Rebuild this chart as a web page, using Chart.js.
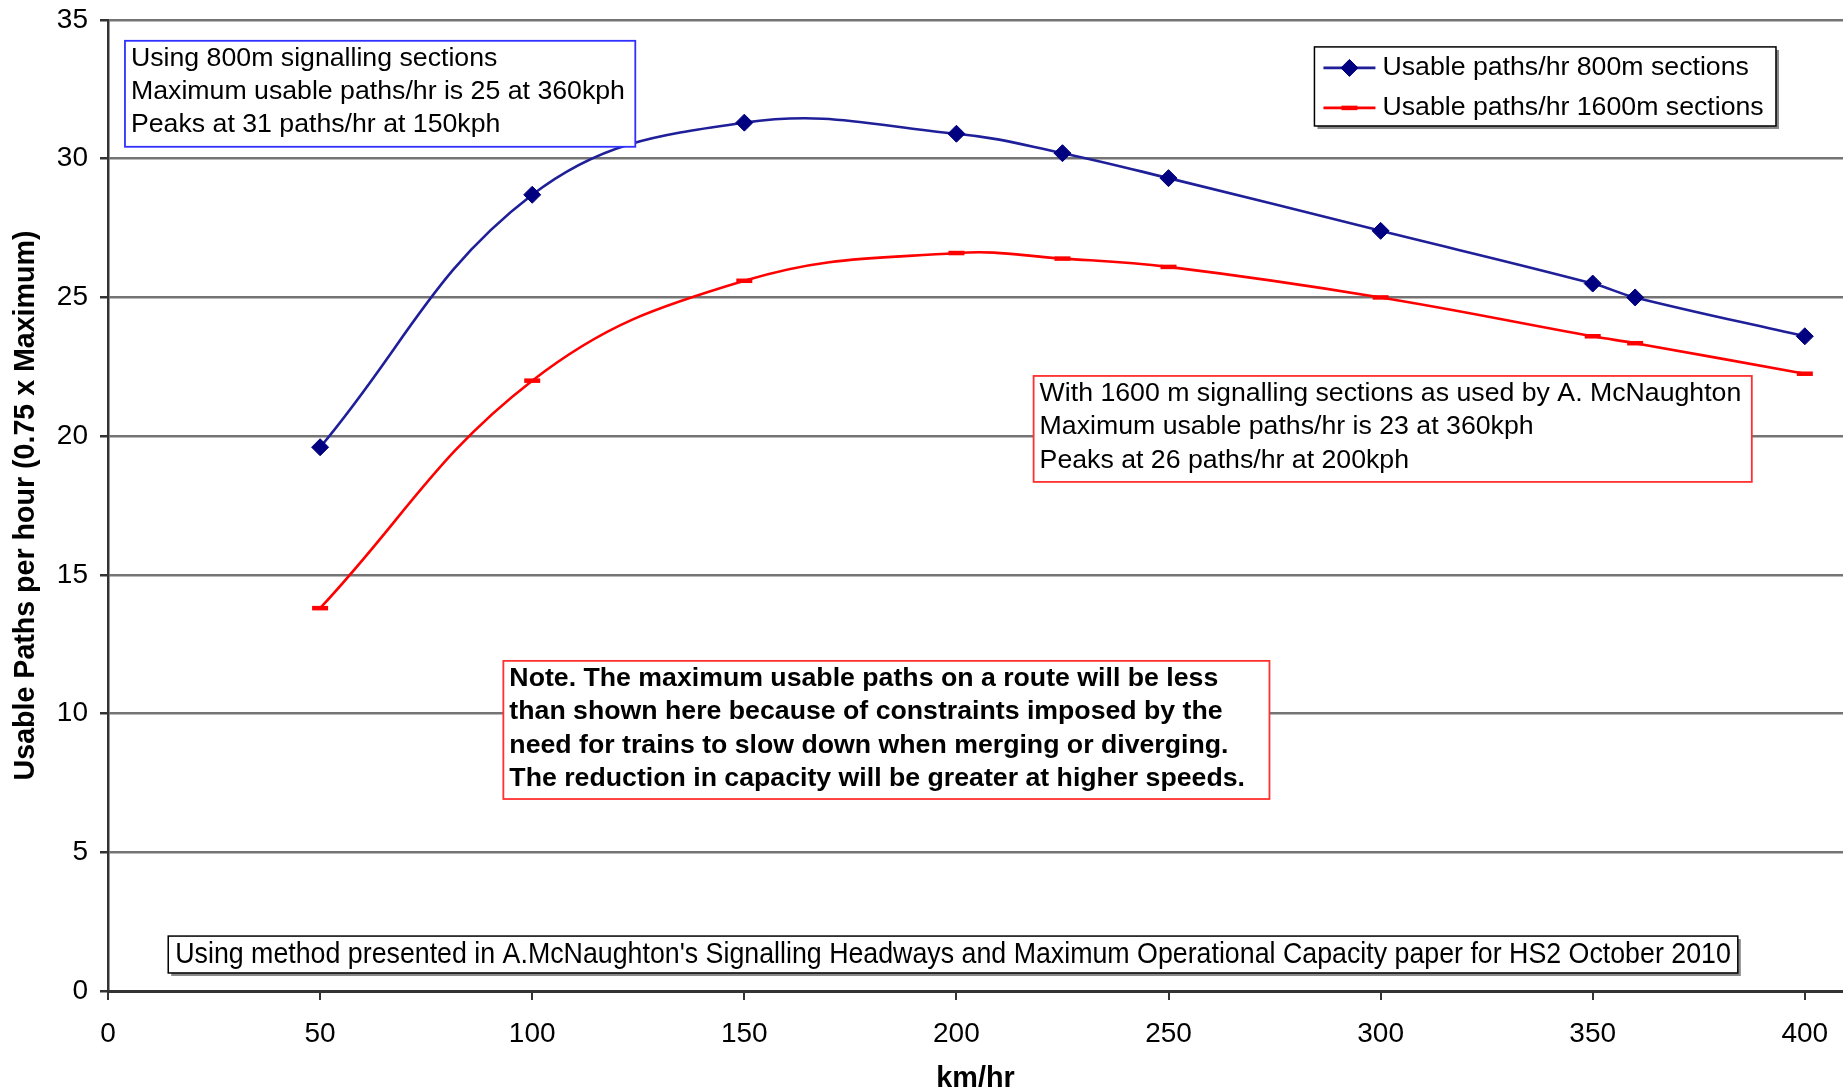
<!DOCTYPE html>
<html>
<head>
<meta charset="utf-8">
<script src="https://cdn.jsdelivr.net/npm/chart.js@4/dist/chart.umd.min.js"></script>
<style>
  html, body { margin: 0; padding: 0; background: #fff; }
  #wrap { width: 1843px; height: 1091px; position: relative; }
</style>
</head>
<body>
<div id="wrap"><canvas id="paths"></canvas></div>
<script>
// speeds in km/hr
const speeds = [50, 100, 150, 200, 225, 250, 300, 350, 360, 400];
// usable paths per hour
const paths800 = [19.6, 28.7, 31.3, 30.9, 30.2, 29.3, 27.4, 25.5, 25.0, 23.6];
const paths1600 = [13.8, 22.0, 25.6, 26.6, 26.4, 26.1, 25.0, 23.6, 23.35, 22.25];
const seriesNames = ['Usable paths/hr 800m sections', 'Usable paths/hr 1600m sections'];
const yTicks = [0, 5, 10, 15, 20, 25, 30, 35];

const FONT = "'Liberation Sans', Arial, sans-serif";

// text boxes, anchored in data units (x0,y0 top-left / x1,y1 bottom-right)
const notes = [
    { x0: 4.0, y0: 34.25, x1: 124.3, y1: 30.43, border: '#3030ff', bold: false,
      lines: ['Using 800m signalling sections',
              'Maximum usable paths/hr is 25 at 360kph',
              'Peaks at 31 paths/hr at 150kph'] },
    { x0: 218.2, y0: 22.17, x1: 387.5, y1: 18.35, border: '#ff3030', bold: false,
      lines: ['With 1600 m signalling sections as used by A. McNaughton',
              'Maximum usable paths/hr is 23 at 360kph',
              'Peaks at 26 paths/hr at 200kph'] },
    { x0: 93.2, y0: 11.9, x1: 273.8, y1: 6.92, border: '#ff3030', bold: true,
      lines: ['Note. The maximum usable paths on a route will be less',
              'than shown here because of constraints imposed by the',
              'need for trains to slow down when merging or diverging.',
              'The reduction in capacity will be greater at higher speeds.'] }
];
const footnote = { x0: 14.2, y0: 1.98, x1: 384.2, y1: 0.65,
    text: "Using method presented in A.McNaughton's Signalling Headways and Maximum Operational Capacity paper for HS2 October 2010" };
const legendBox = { x0: 284.4, y0: 34.03, x1: 393.2, y1: 31.18 };

function shadowBox(ctx, l, t, r, b) {
    ctx.fillStyle = '#888';
    ctx.fillRect(l + 3, t + 3, r - l, b - t);
    ctx.fillStyle = '#fff';
    ctx.fillRect(l, t, r - l, b - t);
    ctx.strokeStyle = '#000';
    ctx.lineWidth = 1.5;
    ctx.strokeRect(l, t, r - l, b - t);
}

const boxPlugin = {
    id: 'boxes',
    afterDatasetsDraw(chart) {
        const { ctx, scales: { x, y } } = chart;
        ctx.save();
        ctx.textBaseline = 'middle';
        ctx.textAlign = 'left';

        notes.forEach(n => {
            const l = x.getPixelForValue(n.x0), t = y.getPixelForValue(n.y0);
            const r = x.getPixelForValue(n.x1), b = y.getPixelForValue(n.y1);
            ctx.fillStyle = '#fff';
            ctx.fillRect(l, t, r - l, b - t);
            ctx.strokeStyle = n.border;
            ctx.lineWidth = 1.8;
            ctx.strokeRect(l, t, r - l, b - t);
            ctx.fillStyle = '#000';
            ctx.font = (n.bold ? 'bold ' : '') + '26.7px ' + FONT;
            n.lines.forEach((s, i) => ctx.fillText(s, l + 6, t + 17.5 + i * 33.4));
        });

        // footnote (condensed text) with shadow
        {
            const l = x.getPixelForValue(footnote.x0), t = y.getPixelForValue(footnote.y0);
            const r = x.getPixelForValue(footnote.x1), b = y.getPixelForValue(footnote.y1);
            shadowBox(ctx, l, t, r, b);
            ctx.fillStyle = '#000';
            ctx.font = '30px ' + FONT;
            ctx.fillText(footnote.text, l + 7, (t + b) / 2, r - l - 14);
        }

        // legend
        {
            const l = x.getPixelForValue(legendBox.x0), t = y.getPixelForValue(legendBox.y0);
            const r = x.getPixelForValue(legendBox.x1), b = y.getPixelForValue(legendBox.y1);
            shadowBox(ctx, l, t, r, b);
            chart.data.datasets.forEach((ds, i) => {
                const cy = t + 21 + i * 40;
                ctx.strokeStyle = ds.borderColor;
                ctx.lineWidth = ds.borderWidth;
                ctx.beginPath();
                ctx.moveTo(l + 9, cy);
                ctx.lineTo(l + 61, cy);
                ctx.stroke();
                ctx.fillStyle = ds.pointBackgroundColor;
                ctx.strokeStyle = ds.pointBorderColor;
                ctx.lineWidth = ds.pointBorderWidth;
                Chart.helpers.drawPoint(ctx, {
                    pointStyle: ds.pointStyle, radius: ds.pointRadius,
                    borderWidth: ds.pointBorderWidth, rotation: 0
                }, l + 35, cy);
                ctx.fillStyle = '#000';
                ctx.font = '26.7px ' + FONT;
                ctx.fillText(ds.label, l + 68, cy);
            });
        }
        ctx.restore();
    }
};

new Chart(document.getElementById('paths'), {
    type: 'line',
    data: {
        datasets: [{
            label: seriesNames[0],
            data: speeds.map((s, i) => ({ x: s, y: paths800[i] })),
            borderColor: '#1f1f99',
            borderWidth: 2.6,
            pointStyle: 'rectRot',
            pointRadius: 8.5,
            pointBorderWidth: 1,
            pointBackgroundColor: '#000080',
            pointBorderColor: '#000080',
            tension: 0.4,
            fill: false
        }, {
            label: seriesNames[1],
            data: speeds.map((s, i) => ({ x: s, y: paths1600[i] })),
            borderColor: '#ff0000',
            borderWidth: 2.6,
            pointStyle: 'line',
            pointRadius: 8,
            pointBorderWidth: 4.5,
            pointBackgroundColor: '#ff0000',
            pointBorderColor: '#ff0000',
            tension: 0.4,
            fill: false
        }]
    },
    options: {
        responsive: true,
        maintainAspectRatio: false,
        animation: false,
        layout: { autoPadding: false, padding: { top: 20, right: 0, left: 0, bottom: 0 } },
        plugins: { legend: { display: false }, tooltip: { enabled: false } },
        scales: {
            x: {
                type: 'linear',
                min: 0,
                max: 409,
                afterFit: (scale) => {
                    scale.height = 100;
                    scale.paddingLeft = 0;
                    scale.paddingRight = 0;
                },
                ticks: { stepSize: 50, includeBounds: false, color: '#000', padding: 17,
                         font: { family: FONT, size: 28 }, maxRotation: 0 },
                grid: { drawOnChartArea: false, drawTicks: true, tickLength: 9,
                        color: '#333', lineWidth: 2 },
                border: { color: '#333', width: 3 },
                title: { display: true, text: 'km/hr', color: '#000',
                         font: { family: FONT, size: 28.8, weight: 'bold', lineHeight: 0.85 },
                         padding: { top: 0, bottom: 0 } }
            },
            y: {
                min: 0,
                max: 35,
                afterFit: (scale) => {
                    scale.width = 108;
                    scale.paddingTop = 0;
                    scale.paddingBottom = 0;
                },
                afterBuildTicks: (scale) => { scale.ticks = yTicks.map(v => ({ value: v })); },
                ticks: { color: '#000', padding: 12, font: { family: FONT, size: 28 } },
                grid: { color: '#747474', lineWidth: 2.5, tickLength: 8, tickColor: '#333' },
                border: { color: '#333', width: 2.5 },
                title: { display: true, text: 'Usable Paths per hour (0.75 x Maximum)', color: '#000',
                         font: { family: FONT, size: 28.6, weight: 'bold', lineHeight: 1.2 },
                         padding: { top: 9, bottom: 0 } }
            }
        }
    },
    plugins: [boxPlugin]
});
</script>
</body>
</html>
